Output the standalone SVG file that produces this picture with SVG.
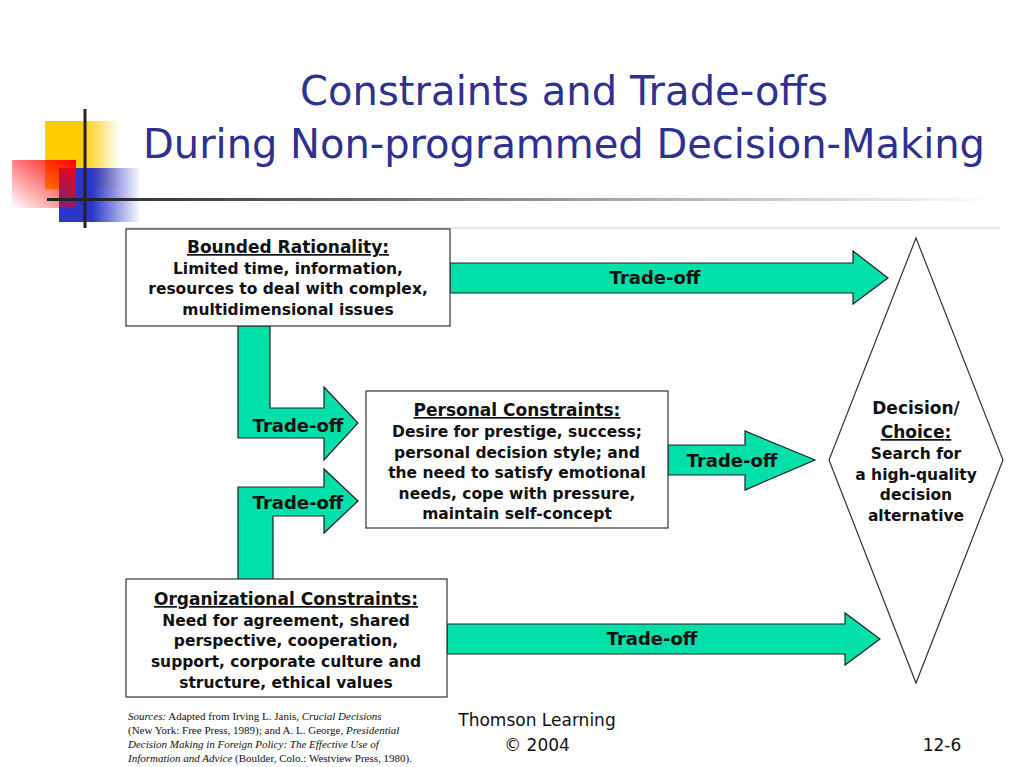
<svg xmlns="http://www.w3.org/2000/svg" width="1024" height="767" viewBox="0 0 1024 767">
<defs>
<style>
.t{font-family:"DejaVu Sans",Verdana,sans-serif;font-weight:bold;font-size:15.5px;fill:#111;text-anchor:middle}
.h{font-size:17px;text-decoration:underline}
.box{fill:#fff;stroke:#333;stroke-width:1.2}
.arr{fill:#00E0A8;stroke:#222;stroke-width:1.2}
.ta{font-family:"DejaVu Sans",Verdana,sans-serif;font-weight:bold;font-size:18px;fill:#111;text-anchor:middle}
.title{font-family:"DejaVu Sans","Open Sans",sans-serif;font-size:40px;fill:#2E3192;text-anchor:middle}
.src{font-family:"Liberation Serif","Times New Roman",serif;font-size:11px;fill:#111}
.ft{font-family:"DejaVu Sans",sans-serif;font-size:17px;fill:#111;text-anchor:middle}
</style>
<linearGradient id="gy" x1="0" x2="1"><stop offset="0.5" stop-color="#FFCC00"/><stop offset="1" stop-color="#FFCC00" stop-opacity="0"/></linearGradient>
<linearGradient id="gb" x1="0" x2="1"><stop offset="0.4" stop-color="#2B35C8"/><stop offset="1" stop-color="#2B35C8" stop-opacity="0"/></linearGradient>
<linearGradient id="gr" x1="1" y1="0" x2="0" y2="1"><stop offset="0" stop-color="#FF0000"/><stop offset="1" stop-color="#FF0000" stop-opacity="0"/></linearGradient>
<linearGradient id="gl" x1="0" x2="1"><stop offset="0" stop-color="#222"/><stop offset="1" stop-color="#222" stop-opacity="0"/></linearGradient>
</defs>
<rect width="1024" height="767" fill="#fff"/>
<g id="decor">
<rect x="45" y="121" width="75" height="68" fill="url(#gy)"/>
<rect x="59" y="168" width="82" height="54" fill="url(#gb)"/>
<rect x="12" y="160" width="64" height="48" fill="url(#gr)"/>
<line x1="85" y1="109" x2="85" y2="228" stroke="#222" stroke-width="3"/>
<rect x="47" y="198" width="950" height="3" fill="url(#gl)"/>
<line x1="125" y1="228" x2="1000" y2="228" stroke="#ccc" stroke-width="1"/>
</g>
<text class="title" x="564" y="105" textLength="528">Constraints and Trade-offs</text>
<text class="title" x="564" y="158" textLength="842">During Non-programmed Decision-Making</text>
<g id="connectors">
<polygon class="arr" points="450,263 853,263 853,251 888,278 853,304 853,293 450,293"/>
<text class="ta" x="655" y="284">Trade-off</text>
<polygon class="arr" points="238,326 270,326 270,408 324,408 324,387 358,423 324,460 324,438 238,438"/>
<text class="ta" x="298" y="432">Trade-off</text>
<polygon class="arr" points="238,580 273,580 273,516 324,516 324,533 358,501 324,469 324,487 238,487"/>
<text class="ta" x="298" y="509">Trade-off</text>
<polygon class="arr" points="668,445 745,445 745,431 815,460 745,490 745,475 668,475"/>
<text class="ta" x="732" y="467">Trade-off</text>
<polygon class="arr" points="447,624 845,624 845,613 880,639 845,665 845,654 447,654"/>
<text class="ta" x="652" y="645">Trade-off</text>
</g>
<g id="bounded">
<rect class="box" x="126" y="229" width="324" height="97"/>
<text class="t h" x="288" y="253">Bounded Rationality<tspan text-decoration="none">:</tspan></text>
<text class="t" x="288" y="274">Limited time, information,</text>
<text class="t" x="288" y="294">resources to deal with complex,</text>
<text class="t" x="288" y="315">multidimensional issues</text>
</g>
<g id="personal">
<rect class="box" x="366" y="391" width="302" height="137"/>
<text class="t h" x="517" y="416">Personal Constraints<tspan text-decoration="none">:</tspan></text>
<text class="t" x="517" y="437">Desire for prestige, success;</text>
<text class="t" x="517" y="458">personal decision style; and</text>
<text class="t" x="517" y="478">the need to satisfy emotional</text>
<text class="t" x="517" y="499">needs, cope with pressure,</text>
<text class="t" x="517" y="519">maintain self-concept</text>
</g>
<g id="organizational">
<rect class="box" x="126" y="579" width="321" height="118"/>
<text class="t h" x="286" y="605">Organizational Constraints<tspan text-decoration="none">:</tspan></text>
<text class="t" x="286" y="626">Need for agreement, shared</text>
<text class="t" x="286" y="646">perspective, cooperation,</text>
<text class="t" x="286" y="667">support, corporate culture and</text>
<text class="t" x="286" y="688">structure, ethical values</text>
</g>
<g id="decision">
<polygon class="box" points="916,238 1003,460 916,683 829,460"/>
<text class="t" x="916" y="414" style="font-size:17px">Decision/</text>
<text class="t h" x="916" y="438">Choice<tspan text-decoration="none">:</tspan></text>
<text class="t" x="916" y="459">Search for</text>
<text class="t" x="916" y="480">a high-quality</text>
<text class="t" x="916" y="500">decision</text>
<text class="t" x="916" y="521">alternative</text>
</g>
<g id="footer">
<text class="src" x="128" y="720"><tspan font-style="italic">Sources:</tspan>  Adapted from Irving L. Janis, <tspan font-style="italic">Crucial Decisions</tspan></text>
<text class="src" x="128" y="734">(New York:  Free Press, 1989); and A. L. George, <tspan font-style="italic">Presidential</tspan></text>
<text class="src" x="128" y="748" font-style="italic">Decision Making in Foreign Policy:  The Effective Use of</text>
<text class="src" x="128" y="762"><tspan font-style="italic">Information and Advice</tspan> (Boulder, Colo.:  Westview Press, 1980).</text>
<text class="ft" x="537" y="726">Thomson Learning</text>
<text class="ft" x="537" y="751">© 2004</text>
<text class="ft" x="942" y="751">12-6</text>
</g>
</svg>
